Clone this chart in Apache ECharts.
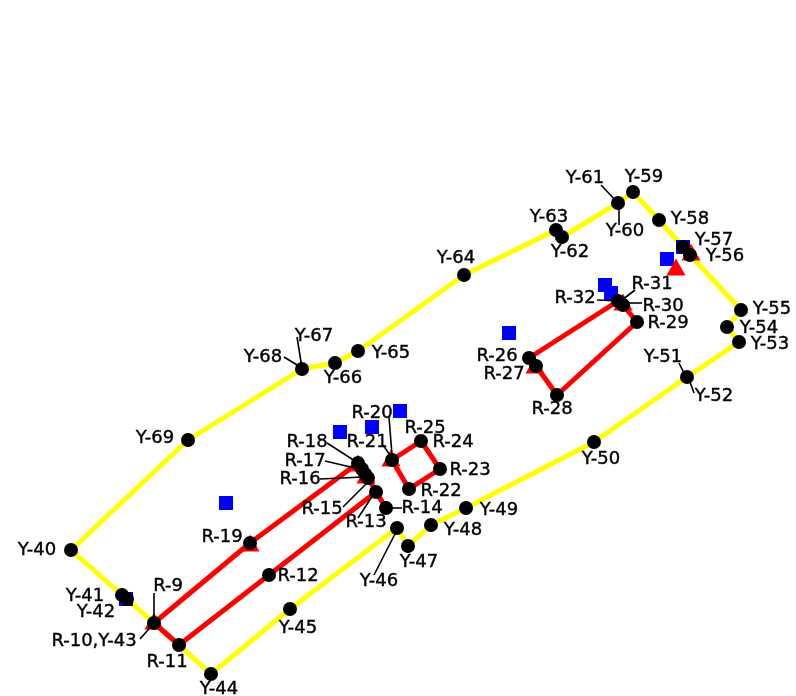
<!DOCTYPE html>
<html><head><meta charset="utf-8">
<style>html,body{margin:0;padding:0;background:#fff}#c{width:796px;height:696px}</style>
<script src="https://cdn.jsdelivr.net/npm/echarts@6/dist/echarts.min.js"></script>
</head><body><div id="c"></div>
<script>
const yellowBoundary = [[71,550],[122,595],[127,599],[154,623],[179,645],[211,674],[290,609],[397,528],[408,546],[431,525],[466,508],[594,442],[687,377],[739,342],[727,327],[741,310],[690,255],[683,247],[659,220],[633,192],[618,203],[562,237],[556,230],[464,275],[358,351],[335,363],[302,369],[188,440],[71,550]];
const redLongLoop = [[154,623],[179,645],[269,575],[376,492],[386,508],[368,478],[365,474],[362,469],[358,463],[250,543],[154,623]];
const redSmallLoop = [[392,460],[409,489],[440,469],[421,441],[392,460]];
const redRightLoop = [[529,358],[536,366],[557,395],[637,322],[623,305],[618,301],[529,358]];
const blueSquares = [[226,503],[126,599],[340,432],[372,427],[400,411],[509,333],[605,285],[611,293],[667,259],[683,247]];
const redTriangles = [[250,543],[154,621],[391,458],[358,463],[366,475],[535,365],[623,302],[691,252],[676,267]];
const nodeDots = [[71,550],[122,595],[127,599],[154,623],[179,645],[211,674],[290,609],[397,528],[408,546],[431,525],[466,508],[594,442],[687,377],[739,342],[727,327],[741,310],[690,255],[683,247],[659,220],[633,192],[618,203],[562,237],[556,230],[464,275],[358,351],[335,363],[302,369],[188,440],
  [250,543],[269,575],[376,492],[386,508],[368,478],[365,474],[362,469],[358,463],[392,460],[409,489],[440,469],[421,441],[529,358],[536,366],[557,395],[637,322],[623,305],[618,301]];
const labelTexts = ['Y-40','Y-41','Y-42','R-9','R-10,Y-43','R-11','Y-44','R-19','R-12','Y-45','R-18','R-17','R-16','R-15','R-13','R-14','R-20','R-21','R-25','R-24','R-23','R-22','Y-46','Y-47','Y-48','Y-49','Y-50','Y-51','Y-52','Y-53','Y-54','Y-55','R-29','R-30','R-31','R-32','R-26','R-27','R-28','Y-56','Y-57','Y-58','Y-59','Y-60','Y-61','Y-62','Y-63','Y-64','Y-65','Y-66','Y-67','Y-68','Y-69'];
const labelSpots = [[37,550],[85,596],[96,612],[168,586],[94,641],[167,662],[219,689],[222,537],[298,576],[298,628],[307,442],[305,461],[300,479],[322,509],[366,522],[422,508],[372,413],[367,442],[425,428],[453,442],[470,470],[441,491],[379,581],[419,562],[463,530],[499,510],[601,459],[663,357],[714,396],[770,344],[759,328],[772,309],[668,323],[663,306],[652,284],[575,298],[497,356],[504,374],[552,409],[725,256],[714,240],[690,219],[644,177],[625,231],[585,178],[570,252],[549,217],[456,258],[391,353],[343,378],[314,336],[263,357],[155,438]];
const leaderLines = [[[154,623],[154,593]],[[154,623],[140,639]],[[327,443],[355,461]],[[325,461],[355,468]],[[320,479],[363,477]],[[343,507],[367,483]],[[358,518],[373,495]],[[392,508],[402,508]],[[389,417],[392,455]],[[383,445],[392,458]],[[374,575],[397,530]],[[627,303],[642,303]],[[622,300],[635,290]],[[597,300],[618,301]],[[679,363],[685,375]],[[690,382],[694,393]],[[601,185],[618,203]],[[619,203],[619,225]],[[297,337],[302,368]],[[284,357],[302,368]]];

const chart = echarts.init(document.getElementById('c'), null, {renderer:'canvas'});
const lineS = (data,color,z)=>({type:'line',data,showSymbol:false,symbol:'none',z,silent:true,animation:false,lineStyle:{color,width:5,cap:'butt',join:'round',opacity:1}});
chart.setOption({
  backgroundColor:'#fff',animation:false,
  grid:{left:0,right:0,top:0,bottom:0},
  xAxis:{type:'value',min:0,max:796,show:false},
  yAxis:{type:'value',min:0,max:696,inverse:true,show:false},
  series:[
    lineS(yellowBoundary,'#ffff00',1),
    lineS(redLongLoop,'#ff0000',2),
    lineS(redSmallLoop,'#ff0000',2),
    lineS(redRightLoop,'#ff0000',2),
    {type:'scatter',data:blueSquares,symbol:'rect',symbolSize:14,z:3,itemStyle:{color:'#0000ff',opacity:1}},
    {type:'scatter',data:redTriangles,symbol:'triangle',symbolSize:[19,17],z:4,itemStyle:{color:'#ff0000',opacity:1}},
    {type:'lines',coordinateSystem:'cartesian2d',z:5,silent:true,data:leaderLines.map(c=>({coords:c})),lineStyle:{color:'#000',width:1.6,opacity:1,curveness:0}},
    {type:'scatter',data:nodeDots,symbol:'circle',symbolSize:14,z:6,itemStyle:{color:'#000',opacity:1}},
    {type:'scatter',z:7,silent:true,symbolSize:0,itemStyle:{opacity:1},
      data:labelSpots.map((p,i)=>({value:p,name:labelTexts[i]})),
      label:{show:true,position:'inside',formatter:p=>p.name,color:'#000',opacity:1,fontFamily:'DejaVu Sans',fontSize:18,align:'center',verticalAlign:'middle',textBorderColor:'#000',textBorderWidth:0.4}}
  ]
});
</script></body></html>
